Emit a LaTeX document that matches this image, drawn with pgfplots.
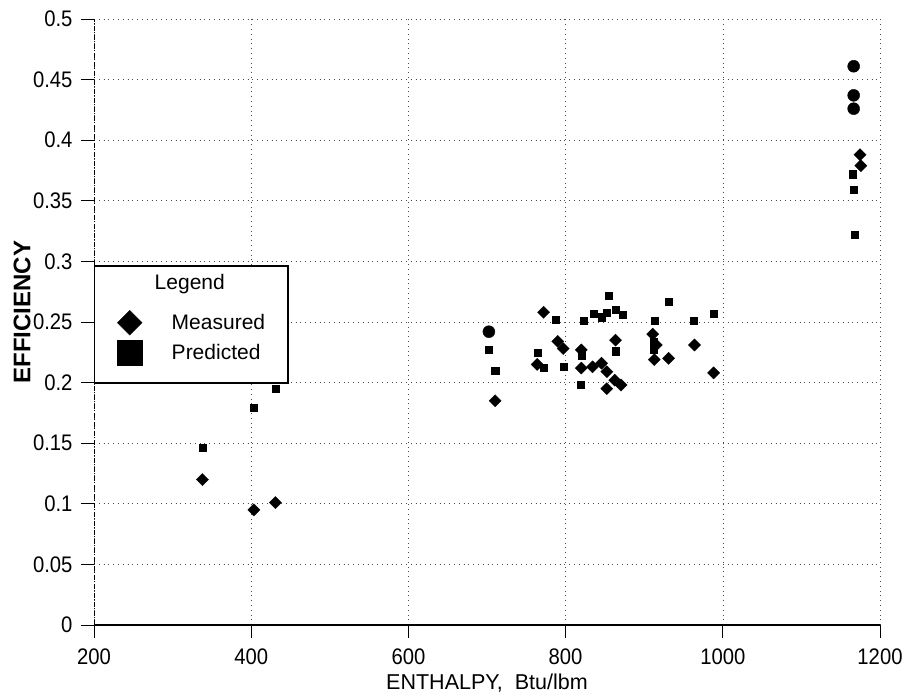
\documentclass[border=0pt]{standalone}
\usepackage{fontspec}
\setmainfont{Liberation Sans}
\newfontfamily\narrowfont{Liberation Sans}[FakeStretch=0.9]
\usepackage{pgfplots}
\pgfplotsset{compat=1.18}
\usetikzlibrary{calc}
\pgfplotsset{
  legT/.style={legend image code/.code={\path[draw=none,fill=none] (0pt,-20pt) rectangle (58pt,17pt);}},
  legM/.style={legend image code/.code={\path[draw=none,fill=none] (0pt,-15pt) rectangle (58pt,20pt); \draw[##1, mark size=8.8pt] plot coordinates {(35pt,0pt)};}},
  legP/.style={legend image code/.code={\path[draw=none,fill=none] (0pt,-30pt) rectangle (58pt,15pt); \draw[##1, mark size=12.5pt] plot coordinates {(35pt,0pt)};}},
}
\begin{document}
\begin{tikzpicture}
\begin{axis}[
  scale only axis,
  width=786pt, height=606pt,
  xmin=200, xmax=1200, ymin=0, ymax=0.5,
  axis x line*=bottom, axis y line*=left,
  x axis line style={line width=1.4pt,-},
  y axis line style={line width=0.8pt,-,dash pattern=on 5pt off 1.5pt on 1pt off 1.5pt},
  tick align=outside,
  major tick length=13pt,
  every tick/.style={black,line width=0.9pt},
  xtick={200,400,600,800,1000,1200},
  xticklabels={200,400,600,800,1000,1200},
  ytick={0,0.05,0.1,0.15,0.2,0.25,0.3,0.35,0.4,0.45,0.5},
  yticklabels={0,0.05,0.1,0.15,0.2,0.25,0.3,0.35,0.4,0.45,0.5},
  ticklabel style={font=\narrowfont\fontsize{22.5}{26}\selectfont},
  xticklabel style={yshift=-7pt},
  yticklabel style={xshift=-5pt},
  grid=major,
  major grid style={black!70,line width=0.6pt,dash pattern=on 0.8pt off 4pt},
  xlabel={ENTHALPY,\ \ Btu/lbm},
  ylabel={\bfseries EFFICIENCY},
  xlabel style={font=\fontsize{21.5}{24}\selectfont, at={(axis description cs:0.5,0)}, anchor=center, yshift=-58pt},
  ylabel style={font=\fontsize{24}{26}\selectfont, at={(axis description cs:-0.0916,0.516)}, anchor=center},
  legend style={at={(axis cs:200,0.297)}, anchor=north west, draw=black, line width=1.5pt, fill=white,
    font=\fontsize{21}{24}\selectfont, inner sep=0pt, row sep=0pt, column sep=19pt,
    nodes={inner sep=0pt}},
  legend cell align=left,
]
\addlegendimage{legT}
\addlegendentry{\makebox[116pt][l]{\hspace{-17pt}Legend}}
% Measured
\addplot[only marks, mark=square*, mark options={rotate=45, line width=0.3pt}, mark size=4.3pt, black, legM]
coordinates {
(338,0.120) (403.4,0.095) (430.8,0.101)
(710.4,0.185) (772,0.258) (790,0.234) (797,0.228) (763.8,0.215)
(820,0.227) (820,0.212) (834.3,0.213) (845.7,0.216) (852.4,0.209)
(852.4,0.195) (862.5,0.202) (870.5,0.198) (863.5,0.235) (910.8,0.240)
(915.5,0.231) (912.8,0.219) (931,0.220) (964,0.231) (988.3,0.208)
(1174.6,0.388) (1175.6,0.379)
};
\addlegendentry{\makebox[116pt][l]{Measured}}
% Predicted
\addplot[only marks, mark=square*, mark options={line width=0.3pt}, mark size=3.6pt, black, legP]
coordinates {
(338,0.146) (403.4,0.179) (430.8,0.195)
(702.4,0.227) (710.4,0.210) (787,0.252) (764.8,0.225) (772,0.212)
(797.4,0.213) (822.6,0.251) (820,0.222) (818.7,0.198) (835.7,0.257)
(845.7,0.254) (852.4,0.258) (854.4,0.272) (863.5,0.260) (872.4,0.256)
(863.5,0.226) (911.8,0.234) (911.8,0.227) (912.8,0.251) (931,0.267)
(963.2,0.251) (988.3,0.257)
(1165.5,0.372) (1166.5,0.359) (1167.5,0.322)
};
\addlegendentry{\makebox[116pt][l]{Predicted}}
% coinciding measured/predicted points
\addplot[only marks, mark=*, mark size=6pt, black, forget plot]
coordinates {
(702.4,0.242) (1166.5,0.461) (1166.5,0.437) (1166.5,0.426)
};
\coordinate (SW) at (rel axis cs:0,0);
\coordinate (NE) at (rel axis cs:1,1);
\end{axis}
\pgfresetboundingbox
\path ($(SW)+(-94pt,-75pt)$) rectangle ($(NE)+(28pt,19pt)$);
\end{tikzpicture}
\end{document}
